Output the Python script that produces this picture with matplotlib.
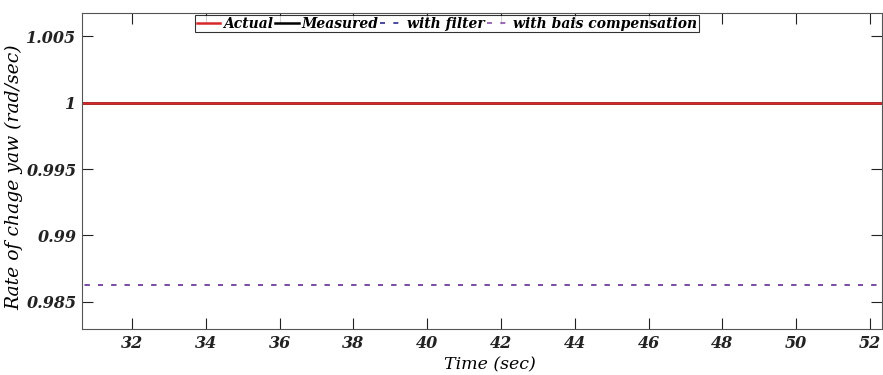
import matplotlib.pyplot as plt

time = [30, 55]
actual = [1.0, 1.0]
measured = [1.0, 1.0]
with_filter = [0.98625, 0.98625]
with_bias = [0.98625, 0.98625]

plt.rcParams['font.family'] = ['DejaVu Serif']
plt.rcParams['font.weight'] = 'bold'
plt.rcParams['font.style'] = 'italic'

fig = plt.figure(figsize=(8.83, 3.75), dpi=100)
ax = fig.add_axes([0.0929, 0.1227, 0.906, 0.8426])

ax.plot(time, measured, color='black', linewidth=1.8, label='Measured')
ax.plot(time, with_filter, color='#2b2b8f', linestyle=(0, (3, 5)), linewidth=1.2, label='with filter')
ax.plot(time, with_bias, color='#8a4fa8', linestyle=(0, (3, 5)), linewidth=1.2, label='with bais compensation')
ax.plot(time, actual, color='#d62a2a', linewidth=1.8, label='Actual')

ax.set_xlim(30.645, 52.325)
ax.set_ylim(0.98297, 1.00673)
ax.set_xticks(range(32, 53, 2))
ax.set_yticks([0.985, 0.99, 0.995, 1.0, 1.005])
ax.set_yticklabels(['0.985', '0.99', '0.995', '1', '1.005'])
ax.tick_params(direction='in', top=True, right=True, length=8, width=0.8,
               labelsize=11.5, colors='#222222', pad=4)
for s in ax.spines.values():
    s.set_color('#555555')
    s.set_linewidth(0.8)

ax.set_xlabel('Time (sec)', fontsize=12.5)
ax.xaxis.set_label_coords(0.51, -0.088)
ax.set_ylabel('Rate of chage yaw (rad/sec)', fontsize=13.5, fontweight='normal')
ax.yaxis.set_label_coords(-0.073, 0.48)

handles, labels = ax.get_legend_handles_labels()
order = [3, 0, 1, 2]
leg = ax.legend([handles[i] for i in order], [labels[i] for i in order],
                loc='upper center', bbox_to_anchor=(0.456, 1.0), ncol=4,
                fontsize=10, frameon=True, fancybox=False, handlelength=1.7,
                handletextpad=0.2, columnspacing=0.15, borderpad=0.12,
                borderaxespad=0.15)
leg.get_frame().set_edgecolor('black')
leg.get_frame().set_linewidth(0.8)

plt.savefig('out.png', dpi=100)
